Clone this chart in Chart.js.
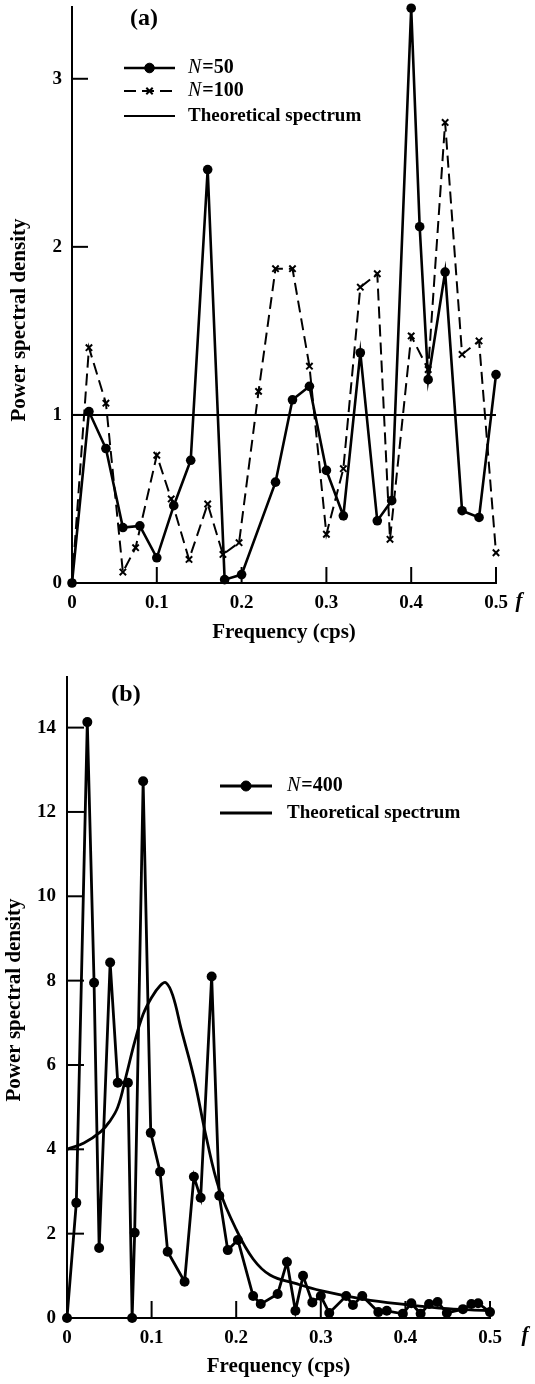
<!DOCTYPE html>
<html>
<head>
<meta charset="utf-8">
<script src="https://cdn.jsdelivr.net/npm/chart.js@4.4.1/dist/chart.umd.min.js"></script>
<style>
  body { margin: 0; background: #fff; width: 535px; height: 1384px; position: relative; overflow: hidden; }
  .panel { position: absolute; left: 0; width: 535px; }
</style>
</head>
<body>
<div class="panel" style="top:0;height:650px"><canvas id="chartA"></canvas></div>
<div class="panel" style="top:650px;height:734px"><canvas id="chartB"></canvas></div>
<script>
// (a) periodograms for N=50 and N=100, theoretical spectrum flat at 1
const freqA50 = [0, 0.02, 0.04, 0.06, 0.08, 0.10, 0.12, 0.14, 0.16, 0.18, 0.20, 0.24, 0.26, 0.28, 0.30, 0.32, 0.34, 0.36, 0.377, 0.40, 0.41, 0.42, 0.44, 0.46, 0.48, 0.50];
const psdA50  = [0, 1.02, 0.80, 0.33, 0.34, 0.15, 0.46, 0.73, 2.46, 0.02, 0.05, 0.60, 1.09, 1.17, 0.67, 0.40, 1.37, 0.37, 0.49, 3.42, 2.12, 1.21, 1.85, 0.43, 0.39, 1.24];
const freqA100 = [0, 0.02, 0.04, 0.06, 0.075, 0.10, 0.117, 0.138, 0.16, 0.178, 0.197, 0.22, 0.24, 0.26, 0.28, 0.30, 0.32, 0.34, 0.36, 0.375, 0.40, 0.42, 0.44, 0.46, 0.48, 0.50];
const psdA100  = [0, 1.40, 1.07, 0.065, 0.21, 0.76, 0.50, 0.14, 0.47, 0.17, 0.24, 1.14, 1.87, 1.87, 1.29, 0.29, 0.68, 1.76, 1.84, 0.26, 1.47, 1.27, 2.74, 1.36, 1.44, 0.18];
const freqATheory = [0, 0.5];
const psdATheory  = [1, 1];

// (b) periodogram for N=400 and theoretical spectrum
const freqB400 = [0, 0.011, 0.024, 0.032, 0.038, 0.051, 0.060, 0.072, 0.077, 0.080, 0.090, 0.099, 0.110, 0.119, 0.139, 0.150, 0.158, 0.171, 0.180, 0.190, 0.202, 0.220, 0.229, 0.249, 0.260, 0.270, 0.279, 0.290, 0.300, 0.310, 0.330, 0.338, 0.349, 0.368, 0.378, 0.397, 0.407, 0.418, 0.428, 0.438, 0.449, 0.468, 0.478, 0.486, 0.500];
const psdB400  = [0, 2.73, 14.13, 7.95, 1.66, 8.43, 5.58, 5.58, 0, 2.02, 12.73, 4.39, 3.47, 1.57, 0.86, 3.35, 2.85, 8.10, 2.90, 1.61, 1.85, 0.52, 0.33, 0.57, 1.33, 0.17, 1.00, 0.37, 0.52, 0.12, 0.52, 0.31, 0.52, 0.14, 0.17, 0.10, 0.35, 0.10, 0.33, 0.38, 0.12, 0.21, 0.33, 0.35, 0.14];
const freqBTheory = [0, 0.02, 0.04, 0.05, 0.06, 0.07, 0.08, 0.09, 0.10, 0.11, 0.117, 0.125, 0.135, 0.15, 0.165, 0.18, 0.20, 0.22, 0.24, 0.27, 0.30, 0.35, 0.40, 0.45, 0.50];
const psdBTheory  = [4.0, 4.15, 4.42, 4.65, 5.0, 5.75, 6.55, 7.2, 7.6, 7.88, 7.95, 7.65, 6.85, 5.7, 4.25, 3.05, 2.1, 1.4, 1.02, 0.82, 0.65, 0.45, 0.32, 0.22, 0.17];

const xTickValues = [0.1, 0.2, 0.3, 0.4, 0.5];
const yTicksA = [1, 2, 3];
const yTicksB = [2, 4, 6, 8, 10, 12, 14];

const SERIF = "'Liberation Serif', 'DejaVu Serif', serif";

function toXY(xs, ys) {
    return xs.map((x, i) => ({ x: x, y: ys[i] }));
}

// inward tick marks, panel letter, f, y title and the legend
const decorPlugin = {
    id: 'decor',
    afterDatasetsDraw(chart, args, opts) {
        const ctx = chart.ctx;
        const x = chart.scales.x, y = chart.scales.y;
        ctx.save();
        ctx.strokeStyle = '#000';
        ctx.fillStyle = '#000';
        ctx.lineWidth = 2;
        opts.yTicks.forEach(v => {
            const py = y.getPixelForValue(v);
            ctx.beginPath();
            ctx.moveTo(x.left, py);
            ctx.lineTo(x.left + opts.tickLen, py);
            ctx.stroke();
        });
        opts.xTicks.forEach(v => {
            const px = x.getPixelForValue(v);
            ctx.beginPath();
            ctx.moveTo(px, y.bottom);
            ctx.lineTo(px, y.bottom - opts.tickLen);
            ctx.stroke();
        });

        ctx.textAlign = 'center';
        ctx.textBaseline = 'middle';
        ctx.font = `bold 24px ${SERIF}`;
        ctx.fillText(opts.panel, opts.panelX, opts.panelY);
        ctx.font = `italic bold 21px ${SERIF}`;
        ctx.fillText('f', opts.fX, opts.fY);

        ctx.save();
        ctx.translate(opts.yTitleX, opts.yTitleY);
        ctx.rotate(-Math.PI / 2);
        ctx.font = `bold 21px ${SERIF}`;
        ctx.fillText('Power spectral density', 0, 0);
        ctx.restore();

        opts.legend.forEach(item => {
            const ds = chart.data.datasets[item.dataset];
            ctx.save();
            ctx.lineWidth = ds.borderWidth;
            ctx.setLineDash(ds.borderDash || []);
            ctx.beginPath();
            ctx.moveTo(item.x0, item.y);
            ctx.lineTo(item.x1, item.y);
            ctx.stroke();
            ctx.setLineDash([]);
            if (ds.pointRadius > 0) {
                ctx.lineWidth = ds.pointBorderWidth || 1;
                Chart.helpers.drawPoint(ctx, {
                    pointStyle: ds.pointStyle,
                    radius: ds.pointRadius,
                    borderWidth: ds.pointBorderWidth || 1
                }, (item.x0 + item.x1) / 2, item.y);
            }
            ctx.restore();
            ctx.textAlign = 'left';
            let tx = item.textX;
            const label = ds.label;
            if (label.startsWith('N=')) {
                ctx.font = `italic 20px ${SERIF}`;
                ctx.fillText('N', tx, item.y);
                tx += ctx.measureText('N').width + 1;
                ctx.font = `bold 20px ${SERIF}`;
                ctx.fillText(label.slice(1), tx, item.y);
            } else {
                ctx.font = `bold 19px ${SERIF}`;
                ctx.fillText(label, tx, item.y);
            }
        });
        ctx.restore();
    }
};

function axisX(height) {
    return {
        type: 'linear',
        min: 0,
        max: 0.5,
        border: { display: true, color: '#000', width: 2 },
        grid: { display: false, drawTicks: false },
        ticks: {
            stepSize: 0.1,
            color: '#000',
            padding: 9,
            maxRotation: 0,
            font: { family: SERIF, size: 19, weight: 'bold' },
            callback: v => (v === 0 ? '0' : v.toFixed(1))
        },
        title: {
            display: true,
            text: 'Frequency (cps)',
            color: '#000',
            font: { family: SERIF, size: 21, weight: 'bold' },
            padding: { top: 0, bottom: 5 }
        },
        afterFit: s => {
            s.height = height;
            s.paddingLeft = 0;
            s.paddingRight = 0;
        }
    };
}

function axisY(max, step, width, pad) {
    return {
        type: 'linear',
        min: 0,
        max: max,
        border: { display: true, color: '#000', width: 2 },
        grid: { display: false, drawTicks: false },
        ticks: {
            stepSize: step,
            includeBounds: false,
            color: '#000',
            padding: pad,
            font: { family: SERIF, size: 19, weight: 'bold' }
        },
        afterFit: s => {
            s.width = width;
            s.paddingTop = 0;
            s.paddingBottom = 0;
        }
    };
}

new Chart(document.getElementById('chartA').getContext('2d'), {
    type: 'line',
    data: {
        datasets: [{
            label: 'N=50',
            data: toXY(freqA50, psdA50),
            borderColor: '#000',
            backgroundColor: '#000',
            borderWidth: 2.6,
            pointStyle: 'circle',
            pointRadius: 4.8,
            pointBorderWidth: 0,
            clip: false
        }, {
            label: 'N=100',
            data: toXY(freqA100, psdA100),
            borderColor: '#000',
            backgroundColor: '#000',
            borderWidth: 2,
            borderDash: [12, 6],
            pointStyle: 'crossRot',
            pointRadius: 4.5,
            pointBorderWidth: 2,
            clip: false
        }, {
            label: 'Theoretical spectrum',
            data: toXY(freqATheory, psdATheory),
            borderColor: '#000',
            borderWidth: 2,
            pointRadius: 0
        }]
    },
    options: {
        responsive: true,
        maintainAspectRatio: false,
        animation: false,
        layout: { padding: { top: 5, right: 39, left: 0, bottom: 0 } },
        plugins: {
            legend: { display: false },
            tooltip: { enabled: false },
            decor: {
                xTicks: xTickValues, yTicks: yTicksA, tickLen: 16,
                panel: '(a)', panelX: 144, panelY: 19,
                fX: 519, fY: 602,
                yTitleX: 20, yTitleY: 320,
                legend: [
                    { dataset: 0, x0: 124, x1: 175, y: 68, textX: 188 },
                    { dataset: 1, x0: 124, x1: 175, y: 91, textX: 188 },
                    { dataset: 2, x0: 124, x1: 175, y: 116, textX: 188 }
                ]
            }
        },
        scales: {
            x: axisX(67),
            y: axisY(3.43, 1, 72, 10)
        }
    },
    plugins: [decorPlugin]
});

new Chart(document.getElementById('chartB').getContext('2d'), {
    type: 'line',
    data: {
        datasets: [{
            label: 'N=400',
            data: toXY(freqB400, psdB400),
            borderColor: '#000',
            backgroundColor: '#000',
            borderWidth: 2.8,
            pointStyle: 'circle',
            pointRadius: 5,
            pointBorderWidth: 0,
            clip: false
        }, {
            label: 'Theoretical spectrum',
            data: toXY(freqBTheory, psdBTheory),
            borderColor: '#000',
            borderWidth: 2.8,
            pointRadius: 0,
            tension: 0.4
        }]
    },
    options: {
        responsive: true,
        maintainAspectRatio: false,
        animation: false,
        layout: { padding: { top: 27, right: 45, left: 0, bottom: 0 } },
        plugins: {
            legend: { display: false },
            tooltip: { enabled: false },
            decor: {
                xTicks: xTickValues, yTicks: yTicksB, tickLen: 17,
                panel: '(b)', panelX: 126, panelY: 45,
                fX: 525, fY: 686,
                yTitleX: 15, yTitleY: 350,
                legend: [
                    { dataset: 0, x0: 220, x1: 272, y: 136, textX: 287 },
                    { dataset: 1, x0: 220, x1: 272, y: 163, textX: 287 }
                ]
            }
        },
        scales: {
            x: axisX(66),
            y: axisY(15.2, 2, 67, 11)
        }
    },
    plugins: [decorPlugin]
});
</script>
</body>
</html>
